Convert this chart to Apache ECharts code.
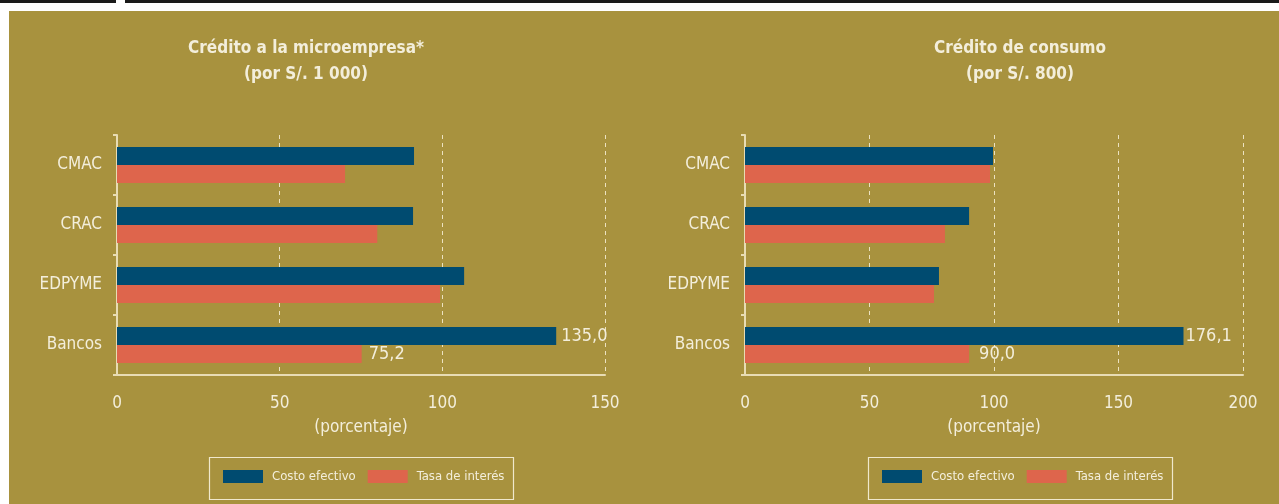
<!DOCTYPE html>
<html>
<head>
<meta charset="utf-8">
<script src="https://cdn.jsdelivr.net/npm/echarts@6/dist/echarts.min.js"></script>
<style>
  html, body { margin: 0; padding: 0; background: #fff; }
  #topbar { position: absolute; left: 0; top: 0; width: 1279px; height: 3px; background: #1a1a1a; }
  #notch { position: absolute; left: 116px; top: 0; width: 9px; height: 3px; background: #fff; }
  #main { position: absolute; left: 9px; top: 11px; width: 1270px; height: 493px; background: #a8923e; }
</style>
</head>
<body>
<div id="topbar"></div>
<div id="notch"></div>
<div id="main"></div>
<script>
// datos
const categorias = ['CMAC', 'CRAC', 'EDPYME', 'Bancos']
const costoMicro = [91.3, 91.0, 106.7, 135.0]
const tasaMicro = [70.1, 80.0, 99.3, 75.2]
const costoConsumo = [99.6, 90.0, 77.9, 176.1]
const tasaConsumo = [98.4, 80.3, 75.9, 90.0]
const ticksMicro = [0, 50, 100, 150]
const ticksConsumo = [0, 50, 100, 150, 200]
const conEtiqueta = 'Bancos'

const FONT = "'Liberation Sans Narrow', 'DejaVu Sans Condensed', sans-serif"
const CREAM = '#f3eedb'
const AZUL = '#004b70'
const NARANJA = '#de654c'

const fmt = v => v.toFixed(1).replace('.', ',')

// solo Bancos lleva el valor al lado de la barra
function datos(valores, dist) {
  return valores.map((v, i) => {
    if (categorias[i] !== conEtiqueta) return v
    return {
      value: v,
      label: {
        show: true,
        position: 'right',
        distance: dist,
        formatter: p => fmt(p.value),
        color: CREAM,
        fontFamily: FONT,
        fontSize: 18
      }
    }
  })
}

function ejeX(idx, ticks) {
  return {
    type: 'value',
    gridIndex: idx,
    min: ticks[0],
    max: ticks[ticks.length - 1],
    interval: 50,
    name: '(porcentaje)',
    nameLocation: 'middle',
    nameGap: 44,
    nameTextStyle: { color: CREAM, fontFamily: FONT, fontSize: 17 },
    axisLine: { show: true, lineStyle: { color: '#e8dcb4', width: 2 } },
    axisTick: { show: false },
    axisLabel: { color: CREAM, fontFamily: FONT, fontSize: 17, margin: 20 },
    splitLine: { show: true, lineStyle: { color: '#ece2c0', type: [4, 4], width: 1 } }
  }
}

function ejeY(idx) {
  return {
    type: 'category',
    gridIndex: idx,
    data: categorias,
    inverse: true,
    axisLine: { show: true, lineStyle: { color: '#e8dcb4', width: 2 } },
    axisTick: { show: true, length: 4, lineStyle: { color: '#e8dcb4', width: 2 } },
    axisLabel: { color: CREAM, fontFamily: FONT, fontSize: 17, margin: 15 },
    splitLine: { show: false }
  }
}

function leyenda(left) {
  return {
    left: left,
    top: 459,
    orient: 'horizontal',
    selectedMode: false,
    data: ['Costo efectivo', 'Tasa de interés'],
    itemWidth: 40,
    itemHeight: 13,
    itemGap: 12,
    icon: 'rect',
    padding: 0,
    textStyle: { color: CREAM, fontFamily: FONT, fontSize: 13, padding: [0, 0, 0, 4] }
  }
}

// recuadro de la leyenda
function marco(left) {
  return {
    type: 'rect',
    left: left,
    top: 444,
    shape: { width: 304, height: 42 },
    style: { fill: 'none', stroke: '#f0e8cc', lineWidth: 1.2 }
  }
}

function serie(nombre, color, idx, valores, dist) {
  return {
    name: nombre,
    type: 'bar',
    xAxisIndex: idx,
    yAxisIndex: idx,
    barWidth: 18,
    barGap: '0%',
    itemStyle: { color: color },
    data: datos(valores, dist)
  }
}

const option = {
  animation: false,
  title: [
    {
      text: 'Crédito a la microempresa*\n(por S/. 1 000)',
      left: 292,
      top: 20,
      textAlign: 'center',
      textStyle: { color: CREAM, fontFamily: FONT, fontSize: 17, fontWeight: 'bold', lineHeight: 26, align: 'center' }
    },
    {
      text: 'Crédito de consumo\n(por S/. 800)',
      left: 1006,
      top: 20,
      textAlign: 'center',
      textStyle: { color: CREAM, fontFamily: FONT, fontSize: 17, fontWeight: 'bold', lineHeight: 26, align: 'center' }
    }
  ],
  graphic: [marco(198), marco(857)],
  legend: [leyenda(214), leyenda(873)],
  grid: [
    { left: 108, top: 124, width: 488, height: 240 },
    { left: 736, top: 124, width: 498, height: 240 }
  ],
  xAxis: [ejeX(0, ticksMicro), ejeX(1, ticksConsumo)],
  yAxis: [ejeY(0), ejeY(1)],
  series: [
    serie('Costo efectivo', AZUL, 0, costoMicro, 5),
    serie('Tasa de interés', NARANJA, 0, tasaMicro, 7),
    serie('Costo efectivo', AZUL, 1, costoConsumo, 2),
    serie('Tasa de interés', NARANJA, 1, tasaConsumo, 10)
  ]
}

const myChart = echarts.init(document.getElementById('main'))
myChart.setOption(option)
</script>
</body>
</html>
